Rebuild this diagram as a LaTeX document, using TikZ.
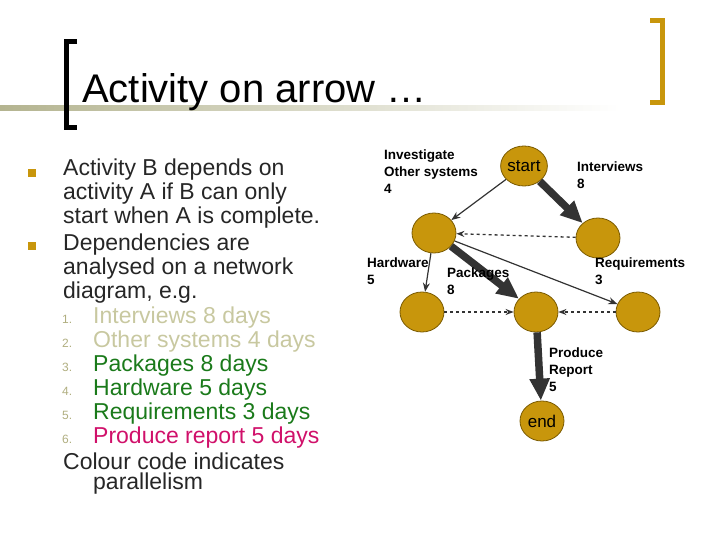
\documentclass[tikz,border=0pt]{standalone}
\usepackage{fontspec}
\setmainfont{Liberation Sans}
\usetikzlibrary{arrows.meta,shapes.geometric}
\definecolor{gold}{HTML}{C8960C}
\definecolor{goldd}{HTML}{7A5A00}
\definecolor{khaki}{HTML}{C8C8A0}
\definecolor{khakid}{HTML}{B0AE80}
\definecolor{grn}{HTML}{1A7A1A}
\definecolor{mag}{HTML}{D0106A}
\definecolor{arr}{HTML}{333333}
\tikzset{
 ev/.style={ellipse,draw=goldd,fill=gold,line width=0.8pt,minimum width=44pt,minimum height=40pt,inner sep=0pt,font=\fontsize{17}{17}\selectfont},
 lab/.style={anchor=north west,align=left,font=\bfseries\fontsize{13.5}{17}\selectfont,inner sep=0pt},
 thin/.style={draw=arr,line width=1.2pt,-{Stealth[length=9pt,width=7pt]}},
 thick/.style={draw=arr,line width=7.5pt,-{Triangle[length=22pt,width=19pt]}},
 dsh/.style={draw=arr,line width=1.3pt,dashed,-{Stealth[length=8pt,width=6pt]}},
 bt/.style={anchor=west,inner sep=0pt,font=\fontsize{23}{24}\selectfont,text=black!85},
 num/.style={anchor=west,inner sep=0pt,font=\fontsize{12}{12}\selectfont,text=khakid},
}
\begin{document}
\begin{tikzpicture}[x=1pt,y=-1pt]
\useasboundingbox (0,0) rectangle (720,540);
\shade[left color=khaki!90!black,right color=white] (0,106) rectangle (620,111);
\draw[line width=5pt] (77,42) -- (66,42) -- (66,128) -- (77,128);
\draw[gold,line width=5pt] (650,21) -- (662,21) -- (662,103) -- (650,103);
\node[anchor=west,inner sep=0pt,font=\fontsize{40}{40}\selectfont] (title) at (82,92) {Activity on arrow …};
\foreach \y in {173,246} \fill[gold] (28,\y-4) rectangle (36,\y+4);
\node[bt] (b1) at (63,170) {Activity B depends on};
\node[bt] (b2) at (63,194) {activity A if B can only};
\node[bt] (b3) at (63,218) {start when A is complete.};
\node[bt] (b4) at (63,245) {Dependencies are};
\node[bt] (b5) at (63,269) {analysed on a network};
\node[bt] (b6) at (63,293) {diagram, e.g.};
\foreach \n/\y in {1/319,2/343,3/367,4/391,5/415,6/439} \node[num] at (62,\y) {\n.};
\node[bt,text=khaki] (l1) at (93,318) {Interviews 8 days};
\node[bt,text=khaki] (l2) at (93,342) {Other systems 4 days};
\node[bt,text=grn] (l3) at (93,366) {Packages 8 days};
\node[bt,text=grn] (l4) at (93,390) {Hardware 5 days};
\node[bt,text=grn] (l5) at (93,414) {Requirements 3 days};
\node[bt,text=mag] (l6) at (93,438) {Produce report 5 days};
\node[bt] (c1) at (63,461) {Colour code indicates};
\node[bt] (c2) at (93,484) {parallelism};
\node[ev] (s) at (524,166) {start};
\node[ev] (a) at (434,233) {};
\node[ev] (r) at (598,238) {};
\node[ev] (h) at (422,312) {};
\node[ev] (p) at (536,312) {};
\node[ev] (q) at (638,312) {};
\node[ev] (e) at (542,421) {end};
\draw[thick] (s) -- (r);
\draw[thin] (s) -- (a);
\draw[dsh] (r) -- (a);
\draw[thin] (a) -- (h);
\draw[thick] (a) -- (p);
\draw[thin] (a) -- (q);
\draw[dsh] (h) -- (p);
\draw[dsh] (q) -- (p);
\draw[thick] (p) -- (e);
\node[lab] (t1) at (384,150) {Investigate\\Other systems\\4};
\node[lab] (t2) at (577,162) {Interviews\\8};
\node[lab] (t3) at (367,258) {Hardware\\5};
\node[lab] (t4) at (447,268) {Packages\\8};
\node[lab] (t5) at (595,258) {Requirements\\3};
\node[lab] (t6) at (549,348) {Produce\\Report\\5};
\end{tikzpicture}
\end{document}
